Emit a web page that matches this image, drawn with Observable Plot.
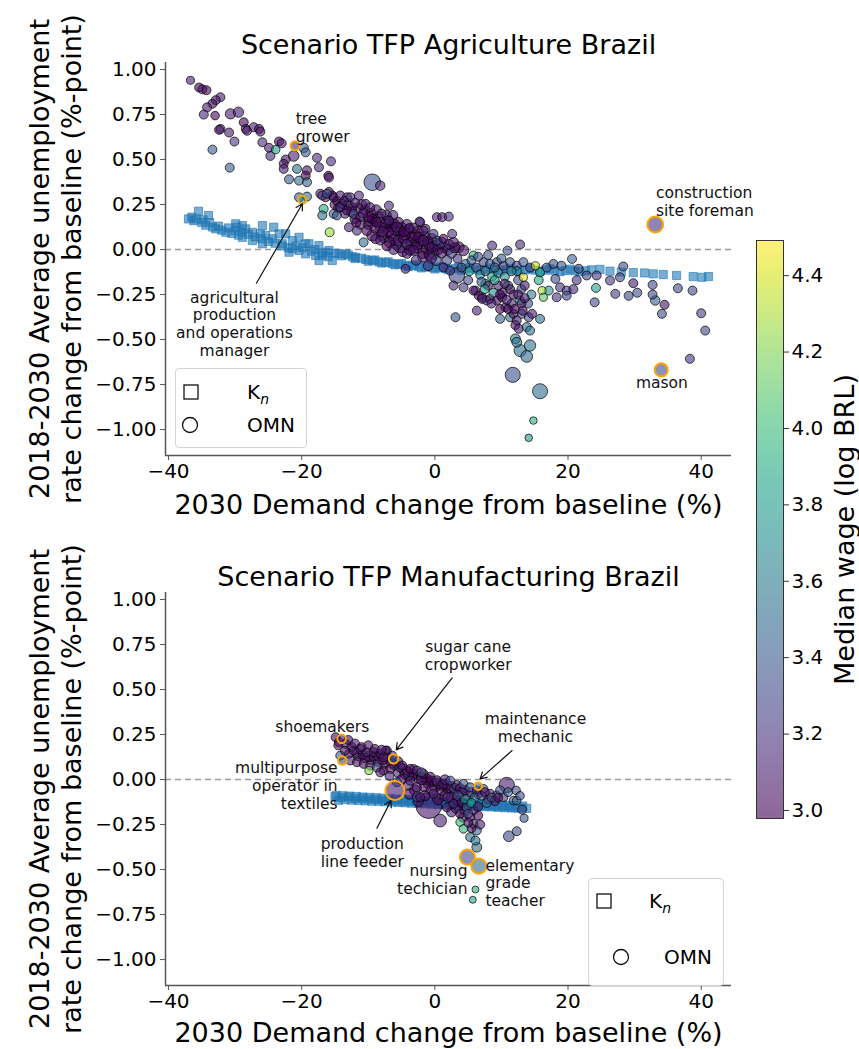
<!DOCTYPE html>
<html><head><meta charset="utf-8">
<script src="https://cdn.jsdelivr.net/npm/d3@7"></script>
<script src="https://cdn.jsdelivr.net/npm/@observablehq/plot@0.6"></script>
<style>
body{margin:0;background:#fff;font-family:"DejaVu Sans",sans-serif;}
#wrap{position:relative;width:859px;height:1049px;overflow:hidden;background:#fff;}
.legend{position:absolute;border:1px solid #d4d4d4;border-radius:4px;background:rgba(255,255,255,0.85);}
.legend svg{position:absolute;left:0;top:0;overflow:visible;}
</style></head><body><div id="wrap"></div>
<script>
// ---------- shared scale settings / tick labels ----------
const xTicks = [-40, -20, 0, 20, 40];
const yTicks = [-1, -0.75, -0.5, -0.25, 0, 0.25, 0.5, 0.75, 1];
const wageTicks = [3.0, 3.2, 3.4, 3.6, 3.8, 4.0, 4.2, 4.4];
const xDomain = [-40.45, 44.55];
const yDomain = [-1.144, 1.039];
const wageDomain = [2.979, 4.492];
const xLabel = "2030 Demand change from baseline (%)";
const yLabel = "2018-2030 Average unemployment\nrate change from baseline (%-point)";
const titles = ["Scenario TFP Agriculture Brazil", "Scenario TFP Manufacturing Brazil"];
const cbLabel = "Median wage (log BRL)";

// ---------- Panel 1: TFP Agriculture ----------
// OMN occupations: [demand change %, unemployment change pp, log median wage, relative employment]
const agriOMN = [
[-36.7,0.94,3.1,0.8],[-35.4,0.90,3.0,1],[-34.9,0.89,3.05,1],[-34.3,0.885,3.0,1],[-32.2,0.846,3.1,1],
[-32.9,0.83,3.05,1],[-33.4,0.81,3.0,1],[-34.2,0.79,3.1,1],[-34.7,0.75,3.15,1],[-33.0,0.744,3.0,0.9],
[-30.7,0.754,3.1,1.3],[-29.5,0.763,3.1,1.3],[-32.2,0.67,3.1,1],[-32.4,0.665,3.05,1],[-30.9,0.65,3.1,1],
[-28.7,0.707,3.0,1],[-28.4,0.67,3.0,1],[-28.2,0.66,3.1,1],[-27.2,0.68,3.1,1],[-26.4,0.67,3.0,1],
[-26.2,0.655,3.05,1],[-30.1,0.60,3.2,1],[-33.4,0.555,3.4,1],[-30.8,0.455,3.4,1],[-25.9,0.596,3.15,1],
[-24.9,0.565,3.1,1],[-24.7,0.52,3.15,1],[-23.9,0.555,3.85,0.9],[-23.4,0.60,3.0,1],[-23.0,0.59,3.1,1],
[-22.4,0.50,3.05,1],[-22.7,0.476,3.05,1],[-22.7,0.448,3.1,1],[-21.2,0.52,3.1,1.4],[-19.7,0.565,3.45,1.1],
[-19.4,0.54,3.4,1],[-20.7,0.448,3.55,1],[-19.2,0.44,3.05,1],[-19.4,0.41,3.0,1],[-21.9,0.39,3.4,1],
[-20.4,0.383,3.55,1],[-19.2,0.374,3.45,1],[-17.7,0.51,3.15,1],[-17.4,0.457,3.15,1],[-15.6,0.49,3.15,1],
[-16.0,0.41,3.0,1],[-15.9,0.40,3.05,1],[-20.4,0.29,3.45,1],[-19.2,0.294,3.5,1],
[-17.2,0.31,3.1,1],[-16.4,0.29,3.0,1],[-15.9,0.32,3.05,1],[-15.4,0.30,3.1,1],[-14.7,0.27,3.0,1],
[-16.9,0.30,3.2,1],[-16.2,0.31,3.35,1],[-15.2,0.29,3.0,1],[-14.2,0.30,3.1,1],[-16.7,0.226,3.9,1],
[-16.9,0.19,3.55,1],[-15.8,0.096,4.25,1],[-13.9,0.254,3.1,1],[-13.2,0.29,3.15,1],[-12.4,0.235,3.05,1],
[-12.7,0.29,3.15,1],[-11.4,0.30,3.15,1],[-10.4,0.254,3.1,1],[-9.7,0.235,3.1,1],[-6.9,0.244,3.15,1],
[-14.2,0.235,3.2,1],[-13.2,0.217,3.0,1],[-12.2,0.198,3.3,1],[-11.2,0.18,3.1,1],[-15.2,0.198,3.4,1],
[-14.7,0.19,3.35,1],[-12.9,0.124,3.1,1],[-11.7,0.105,3.15,1],[-10.7,0.04,3.5,1],[-9.4,0.374,3.35,3.4],
[-8.2,0.355,3.15,1.1],[-9.4,0.17,3.0,1.2],[-8.7,0.152,3.0,1.2],[-8.2,0.124,3.05,1.3],[-7.4,0.143,3.0,1.2],
[-6.9,0.161,3.1,1],[-10.2,0.105,3.0,1.2],[-9.4,0.078,3.05,1.5],[-8.9,0.06,3.0,1.2],[-8.2,0.05,3.1,1],
[-7.7,0.068,3.0,1.5],[-6.2,0.143,3.0,1.3],[-5.7,0.124,3.05,1.3],[-5.2,0.096,3.0,1.5],[-4.7,0.06,3.0,1.3],
[-4.2,0.03,3.1,1.2],[-3.7,-0.005,3.05,1.2],[-5.2,0.022,3.2,2.5],[-4.2,-0.024,3.1,1],[-3.2,-0.005,3.05,1.2],
[-2.2,0.152,3.15,1],[-1.4,0.115,3.05,1],[-2.4,0.068,3.0,1.3],[-1.7,0.05,3.05,1.3],[-0.9,0.03,3.0,1.4],
[-0.4,0.013,3.05,1.3],[0.3,0.18,3.1,1],[1.1,0.18,3.05,1],[2.1,0.183,3.15,1],[2.6,0.087,3.15,1],
[0.3,0.05,3.3,1],[1.3,0.06,3.0,1],[2.1,0.03,3.1,1.2],[2.8,0.04,3.05,1.2],[3.6,0.013,3.0,1.4],
[4.3,-0.005,3.05,1.4],[-4.4,-0.107,3.1,1],[-0.2,-0.024,3.3,1.5],[3.3,-0.144,3.3,3.0],[1.8,-0.06,3.3,1.2],
[1.3,-0.10,3.15,1],[2.3,-0.117,3.2,1],[4.3,-0.21,3.2,1],[2.8,-0.20,3.15,1],[5.8,-0.033,3.95,1],
[8.6,0.022,3.15,1],[7.6,-0.19,3.9,1],[6.1,-0.228,3.1,1],[7.1,-0.265,3.15,1],[7.8,-0.283,3.2,1],
[3.1,-0.376,3.4,1],[12.8,0.028,3.15,1],[10.9,-0.006,3.35,1],[20.6,-0.052,3.45,1],
[7.3,-0.07,3.3,1],[8.3,-0.08,3.4,1],[9.3,-0.07,3.3,1],[10.3,-0.09,3.25,1],[11.3,-0.07,3.35,1],
[12.3,-0.09,3.3,1],[13.3,-0.07,3.4,1],[14.3,-0.10,3.3,1],[15.1,-0.09,4.4,0.8],[13.3,-0.154,4.45,0.8],
[16.1,-0.228,4.3,0.8],[16.3,-0.265,4.1,0.8],[17.1,-0.228,3.75,1],[15.6,-0.17,3.9,1],[15.8,-0.126,3.85,1],
[18.1,-0.163,3.3,1],[18.8,-0.21,3.2,1],[19.8,-0.228,3.25,1],[20.8,-0.22,3.15,1],[18.3,-0.265,3.2,1],
[19.8,-0.256,3.3,1],[21.3,-0.17,3.2,1],[5.8,-0.228,3.05,1],[6.6,-0.256,3.0,1],[7.1,-0.274,3.1,1],
[6.3,-0.339,3.1,1],[8.3,-0.274,3.05,1],[9.3,-0.283,3.0,1],[10.1,-0.265,3.1,1],[10.6,-0.32,3.1,1],
[9.8,-0.33,3.0,1],[9.8,-0.385,3.4,1],[11.3,-0.376,3.5,1],[11.8,-0.357,3.05,1],[12.3,-0.394,3.1,1],
[12.8,-0.283,3.8,1],[12.1,-0.42,3.1,1],[12.6,-0.44,3.1,1],[13.1,-0.357,3.35,1],[14.1,-0.376,3.3,1],
[14.6,-0.357,3.1,1],[15.8,-0.385,3.5,1],[13.8,-0.43,3.5,1],[14.3,-0.45,3.55,1],[12.1,-0.496,3.6,1.2],
[12.3,-0.515,3.55,1.2],[12.8,-0.561,3.55,1.8],[14.3,-0.533,3.55,1.6],[13.8,-0.594,3.5,1.7],
[11.7,-0.696,3.35,2.8],[15.8,-0.787,3.5,2.8],[14.8,-0.95,3.95,0.7],[14.1,-1.046,3.8,0.7],
[22.8,-0.144,3.3,1],[24.3,-0.144,3.2,1],[24.2,-0.213,3.8,1],[24.0,-0.293,3.3,1],[26.3,-0.172,3.25,1],
[27.8,-0.154,3.3,1],[27.1,-0.246,3.25,1],[29.1,-0.257,3.3,1],[30.4,-0.24,3.35,1],[29.8,-0.187,3.1,1],
[32.7,-0.196,3.3,1],[32.7,-0.25,3.3,1],[33.1,-0.283,3.45,1.1],[34.5,-0.307,3.05,1],[34.1,-0.357,3.3,1],
[36.5,-0.215,3.3,1],[38.7,-0.228,3.3,1],[40.0,-0.354,3.25,1],[40.6,-0.45,3.3,1],[38.3,-0.607,3.2,1],
[28.3,-0.094,3.35,1],[21.6,-0.107,3.3,1],[-2.3,0.156,3.15,1],[-1.7,0.105,3.1,1],[-0.2,0.087,3.2,1],
[-7.0,0.10,3.0,1.4],[-6.5,0.08,3.05,1.5],[-6.0,0.06,3.0,1.6],[-5.5,0.05,3.1,1.4],[-7.2,0.02,3.0,1.2],
[-6.2,0.0,3.05,1.2],[-3.0,0.08,3.0,1.4],[-2.6,0.03,3.1,1.5],[-3.5,0.04,3.0,1.6],[-1.2,0.0,3.05,1.5],
[-1.8,-0.02,3.0,1.4],[-0.5,-0.05,3.1,1.2],[0.5,0.0,3.0,1.3],[1.0,-0.02,3.05,1.2],[-2.8,-0.06,3.15,1.2],
[-1.0,-0.09,3.2,1.2],[-4.6,0.10,3.0,1.3],[-8.0,0.20,3.1,1],[-10.8,0.20,3.05,1],[-11.8,0.15,3.0,1],
[-13.6,0.27,3.05,1],[-12.0,0.26,3.1,1],[-10.0,0.18,3.0,1.2],[-9.0,0.12,3.0,1.3],[-7.8,0.10,3.05,1.2],
[-3.8,0.12,3.05,1],[3.4,-0.05,3.2,1],[4.6,-0.08,3.5,1],[5.2,-0.12,3.85,1],[6.2,-0.10,3.3,1],
[6.8,-0.14,3.7,1],[7.6,-0.12,3.5,1],[8.6,-0.15,3.85,1],[9.5,-0.13,3.6,1],[10.5,-0.15,3.7,1],
[11.0,-0.20,3.5,1],[9.5,-0.20,3.1,1],[10.2,-0.24,3.05,1],[11.8,-0.25,3.1,1],[13.0,-0.22,3.3,1],
[14.5,-0.25,3.6,1],[14.0,-0.30,3.3,1],[8.8,-0.24,3.7,1],[7.0,-0.18,3.4,1],[5.0,-0.17,3.3,1],
[12.3,-0.12,3.7,1],[16.8,-0.10,3.4,1],[17.8,-0.08,3.35,1],[19.0,-0.09,3.4,1],[11.5,-0.30,3.15,1],
[13.0,-0.30,3.05,1],[11.0,-0.33,3.0,1],
[-15.0,0.25,3.05,1.2],[-14.0,0.24,3.0,1.2],[-13.0,0.25,3.1,1.2],[-12.5,0.21,3.0,1.3],[-11.5,0.23,3.05,1.3],
[-10.5,0.22,3.0,1.3],[-10.0,0.14,3.1,1.3],[-9.6,0.20,3.0,1.4],[-9.0,0.16,3.05,1.4],[-8.5,0.18,3.0,1.4],
[-8.0,0.08,3.1,1.4],[-7.5,0.12,3.0,1.5],[-7.0,0.16,3.05,1.4],[-6.5,0.13,3.0,1.5],[-6.0,0.11,3.1,1.5],
[-5.5,0.15,3.0,1.4],[-5.0,0.12,3.05,1.5],[-4.5,0.08,3.0,1.5],[-4.0,0.11,3.1,1.4],[-3.5,0.07,3.0,1.5],
[-3.0,0.03,3.05,1.5],[-2.5,0.10,3.0,1.4],[-2.0,0.05,3.1,1.5],[-1.5,0.07,3.0,1.5],[-1.0,0.04,3.05,1.5],
[-0.5,0.06,3.0,1.4],[0.0,0.02,3.1,1.5],[0.5,0.03,3.0,1.4],[1.0,0.04,3.3,1.3],[1.5,0.01,3.0,1.4],
[2.0,0.0,3.05,1.4],[2.5,-0.02,3.3,1.3],[3.0,0.01,3.0,1.3],[-6.8,0.04,3.0,1.4],[-5.8,0.03,3.05,1.5],
[-4.8,-0.01,3.0,1.4],[-3.8,0.0,3.1,1.4],[-2.8,0.01,3.0,1.5],[-1.8,-0.04,3.05,1.4],[-0.8,-0.03,3.0,1.4],
[0.2,-0.06,3.3,1.3],[-11.0,0.25,3.05,1.2],[-12.0,0.17,3.0,1.2],[-13.5,0.20,3.1,1.1],[-14.5,0.23,3.0,1.1],
[-8.8,0.22,3.05,1.3],[-7.3,0.19,3.0,1.3],[-6.3,0.19,3.1,1.2],[-9.8,0.16,3.0,1.3],[-11.2,0.14,3.05,1.2],
[-4.2,0.14,3.1,1.2],[-3.2,0.12,3.0,1.2],
[4.0,-0.10,3.3,1],[5.5,-0.06,3.4,1],[6.5,-0.04,3.35,1],[8.0,-0.03,3.3,1],[9.0,-0.10,3.45,1],
[10.0,-0.05,3.4,1],[11.5,-0.12,3.6,1],[12.5,-0.17,3.3,1],[13.5,-0.20,3.1,1],[8.0,-0.20,3.05,1],
[9.0,-0.17,3.85,1],[10.5,-0.19,3.1,1],[11.3,-0.22,3.0,1],[12.5,-0.25,3.05,1],[13.5,-0.27,3.1,1],
[12.0,-0.33,3.0,1],[13.2,-0.34,3.05,1],[10.8,-0.28,3.1,1],[9.8,-0.25,3.0,1],[8.5,-0.30,3.15,1],[7.5,-0.22,3.8,1]
];
// annotated occupations (orange edge)
const agriHighlight = [
[-21.0,0.576,3.15,1.0],[-19.9,0.276,3.75,0.8],[33.1,0.139,3.2,3.1],[34.0,-0.668,3.3,2.1]
];
// K_n (squares): [demand change %, unemployment change pp]
const agriKn = [
[-37.0,0.170],[-36.2,0.160],[-35.5,0.213],[-35.0,0.150],[-34.0,0.189],[-34.4,0.135],[-33.4,0.125],
[-32.9,0.115],[-32.0,0.108],[-31.4,0.096],[-30.5,0.090],[-29.9,0.143],[-29.7,0.124],[-28.9,0.133],
[-28.4,0.115],[-29.5,0.080],[-28.9,0.068],[-27.4,0.096],[-27.4,0.050],[-26.2,0.087],[-25.9,0.133],
[-25.4,0.078],[-25.9,0.032],[-24.4,0.060],[-24.2,0.124],[-23.4,0.087],[-22.9,0.032],[-22.4,0.087],
[-21.4,0.050],[-21.4,0.004],[-21.9,-0.015],[-20.4,0.068],[-20.4,-0.005],[-19.4,0.032],[-19.4,-0.024],
[-18.9,0.032],[-17.9,-0.033],[-17.4,0.022],[-17.4,-0.061],[-16.9,-0.033],[-15.9,-0.005],[-15.4,-0.061],
[-16.4,-0.015],[-14.4,-0.024],[-13.4,-0.024],[-12.4,-0.040],[-11.9,-0.043],[-10.4,-0.055],[-9.4,-0.060],
[-8.4,-0.068],[-7.4,-0.072],[-6.4,-0.078],[-5.4,-0.082],[-4.4,-0.087],[-3.4,-0.090],[-2.4,-0.094],
[-1.4,-0.097],[-0.4,-0.100],[0.6,-0.102],[1.6,-0.104],[3.0,-0.106],[4.6,-0.108],[6.0,-0.109],
[7.6,-0.110],[9.0,-0.111],[10.6,-0.112],[12.0,-0.113],[13.6,-0.113],[15.0,-0.114],[16.6,-0.115],
[18.0,-0.116],[19.6,-0.117],[21.0,-0.118],[22.6,-0.118],[24.8,-0.110],[26.3,-0.120],[28.0,-0.125],
[29.8,-0.128],[31.5,-0.130],[32.8,-0.135],[34.3,-0.139],[36.3,-0.144],[38.8,-0.150],[40.1,-0.154],[41.1,-0.150],
[-15.0,-0.020],[-14.0,-0.035],[-13.0,-0.030],[-12.0,-0.050],[-11.0,-0.048],[-10.0,-0.065],[-9.0,-0.058],
[-8.0,-0.075],[-7.0,-0.068],[-6.0,-0.085],[-5.0,-0.078],[-4.0,-0.095],[-3.0,-0.085],[-2.0,-0.102],
[-1.0,-0.092],[0.0,-0.108],[1.0,-0.095],[2.0,-0.112],[3.5,-0.098],[4.0,-0.115],[5.3,-0.100],
[6.8,-0.116],[8.3,-0.102],[9.8,-0.118],[11.3,-0.104],[12.8,-0.120],[14.3,-0.105],[15.8,-0.121],
[17.3,-0.107],[18.8,-0.123],[20.3,-0.109],[21.8,-0.124],[23.5,-0.113],
[-36.5,0.180],[-35.8,0.170],[-34.8,0.165],[-33.8,0.150],[-32.5,0.130],[-31.0,0.120],[-30.0,0.105],
[-29.0,0.095],[-28.0,0.085],[-27.0,0.070],[-26.0,0.060],[-25.0,0.045],[-24.0,0.035],[-23.0,0.020],
[-22.0,0.010],[-20.8,0.020],[-19.9,0.010],[-18.5,-0.010],[-18.0,0.000],[-17.0,-0.020],[-16.0,-0.040]
];
const agriNotes = [
{label:"tree\ngrower", x:-20.9, y:0.678, anchor:"start"},
{label:"construction\nsite foreman", x:33.2, y:0.269, anchor:"start"},
{label:"mason", x:34.1, y:-0.737, anchor:"middle"},
{label:"agricultural\nproduction\nand operations\nmanager", x:-30.1, y:-0.411, anchor:"middle"}
];
const agriArrows = [{x1:-26.8, y1:-0.187, x2:-19.9, y2:0.254}];

// ---------- Panel 2: TFP Manufacturing ----------
const manuOMN = [
[-14.9,0.235,3.0,1],[-14.4,0.207,3.05,1],[-13.4,0.198,3.1,1],[-14.2,0.133,3.4,1],[-12.9,0.143,3.1,1],
[-12.2,0.161,3.05,1],[-11.2,0.17,3.2,1],[-10.2,0.152,3.15,1],[-9.2,0.152,3.1,1],[-8.2,0.143,3.0,1],
[-7.2,0.161,3.05,1],[-6.4,0.133,3.1,1],[-12.7,0.106,3.1,1],[-11.7,0.096,3.05,1],[-10.7,0.087,3.0,1],
[-9.7,0.078,3.1,1],[-9.9,0.05,4.2,0.8],[-8.7,0.068,3.3,1],[-7.7,0.05,3.0,1],[-6.7,0.059,3.05,1],
[-5.2,0.068,3.2,1],[-4.2,0.05,3.05,1],[-3.2,0.059,3.1,1],[-5.7,-0.015,3.4,1],[-3.7,-0.006,3.1,1],
[-2.7,-0.043,3.05,1],[-2.7,-0.098,3.3,1],[-7.4,0.161,3.0,1],[-7.7,0.124,3.1,1],[-4.9,0.078,3.05,1],
[-3.7,0.059,3.0,1],[-2.7,0.05,3.1,1],[-1.7,0.032,3.05,1],[-0.7,0.013,3.0,1.2],[0.3,-0.006,3.1,1.2],
[1.3,-0.024,3.05,1.2],[2.3,-0.006,3.3,1],[3.3,-0.033,3.1,1.2],[4.3,-0.024,3.4,1],[5.3,-0.043,3.3,1],
[6.3,-0.061,3.1,1],[7.3,-0.052,3.4,1],[8.3,-0.079,3.1,1],[9.3,-0.089,3.3,1],[10.3,-0.098,3.2,1],
[10.8,-0.03,3.1,2.9],[11.8,-0.117,3.4,0.9],[12.3,-0.117,3.45,0.9],[13.1,-0.167,3.35,1],[13.4,-0.215,3.4,0.8],
[11.1,-0.315,3.3,1.4],[12.3,-0.287,3.35,1],[-0.9,-0.144,3.05,8.3],[0.8,-0.228,3.1,2.0],[-2.2,-0.098,3.05,1],
[-0.2,-0.079,3.1,1],[1.8,-0.154,3.0,1],[2.8,-0.135,3.1,1],[3.8,-0.19,3.0,1],[4.8,-0.154,3.35,1],
[5.3,-0.209,3.05,1],[5.8,-0.246,3.1,1],[6.3,-0.283,3.45,1],[5.3,-0.32,3.5,1],[6.1,-0.339,3.55,1],
[6.3,-0.376,3.5,1.2],[3.8,-0.237,4.0,0.9],[4.3,-0.274,3.95,0.9],[6.1,-0.611,3.95,0.6],[5.7,-0.668,3.85,0.6],
[-13.0,0.22,3.0,1],[-12.0,0.20,3.1,1],[-11.0,0.18,3.0,1],[-10.0,0.19,3.05,1],[-9.0,0.17,3.0,1],
[-8.0,0.165,3.1,1],[-11.5,0.13,3.0,1.1],[-10.5,0.12,3.05,1.1],[-9.5,0.11,3.0,1.2],[-8.5,0.10,3.1,1.2],
[-7.5,0.09,3.0,1.2],[-6.5,0.09,3.05,1.2],[-5.5,0.10,3.0,1.1],[-4.5,0.03,3.1,1.2],[-3.5,0.02,3.0,1.3],
[-2.0,0.0,3.05,1.3],[-1.0,-0.02,3.0,1.4],[0.0,-0.04,3.05,1.4],[1.0,-0.06,3.0,1.4],[2.0,-0.05,3.1,1.3],
[3.0,-0.08,3.0,1.4],[4.0,-0.07,3.3,1.2],[5.0,-0.09,3.1,1.2],[6.0,-0.10,3.5,1],[7.0,-0.09,3.3,1],
[8.0,-0.11,3.05,1],[9.0,-0.12,3.1,1],[4.5,-0.11,3.7,1],[5.5,-0.13,3.85,1],[6.5,-0.15,3.1,1],
[5.0,-0.19,3.3,1],[6.5,-0.20,3.0,1],[-4.0,-0.03,3.1,1.3],[-3.0,-0.06,3.0,1.5],[-1.5,-0.09,3.05,1.3],
[0.5,-0.11,3.0,1.5],[2.0,-0.10,3.1,1.2],[-5.0,0.0,3.0,1.2],[-6.8,0.02,3.1,1],[-8.2,0.04,3.05,1],
[3.5,-0.12,3.05,1.3],[2.5,-0.18,3.1,1.2],[-2.0,0.04,3.3,1],[1.5,0.0,3.1,1.1],[7.8,-0.13,3.45,1],
[9.8,-0.06,3.35,1],[11.0,-0.07,3.4,1],[12.2,-0.06,3.35,0.9],[12.8,-0.09,3.3,0.9],
[-14.5,0.19,3.0,1],[-13.5,0.16,3.05,1],[-12.5,0.18,3.0,1.1],[-11.8,0.15,3.1,1.1],[-10.8,0.14,3.0,1.1],
[-10.0,0.13,3.05,1.2],[-9.2,0.13,3.0,1.2],[-8.5,0.13,3.1,1.2],[-7.8,0.11,3.0,1.2],[-7.0,0.12,3.05,1.3],
[-6.0,0.08,3.0,1.3],[-5.5,0.04,3.1,1.3],[-4.8,0.06,3.0,1.3],[-4.0,0.02,3.05,1.3],[-3.3,0.03,3.0,1.4],
[-2.5,0.01,3.1,1.4],[-1.8,0.01,3.0,1.4],[-1.2,0.0,3.05,1.4],[-0.5,-0.01,3.0,1.4],[0.5,-0.02,3.1,1.4],
[1.0,-0.03,3.0,1.4],[1.8,-0.03,3.05,1.3],[2.5,-0.04,3.0,1.3],[3.0,-0.05,3.3,1.3],[3.8,-0.05,3.0,1.2],
[4.5,-0.06,3.05,1.2],[5.5,-0.07,3.3,1.1],[6.5,-0.08,3.0,1.1],[7.5,-0.07,3.05,1],[8.5,-0.10,3.3,1],
[9.5,-0.10,3.05,1],[-3.8,-0.08,3.0,1.4],[-2.5,-0.12,3.05,1.4],[-1.5,-0.04,3.0,1.4],[-0.5,-0.06,3.1,1.4],
[1.5,-0.09,3.0,1.3],[2.5,-0.10,3.05,1.3],[3.5,-0.09,3.3,1.2],[4.0,-0.13,3.0,1.2],[4.5,-0.17,3.05,1.2],
[5.8,-0.17,3.1,1.1],[3.2,-0.16,3.0,1.2],[4.2,-0.21,3.05,1.1],[5.5,-0.27,3.0,1],[6.8,-0.25,3.1,1],[5.0,-0.24,3.05,1]
];
const manuHighlight = [
[-14.0,0.226,3.1,0.9],[-13.9,0.106,3.35,0.9],[-6.2,0.115,3.4,1.1],[6.5,-0.037,3.5,0.7],
[-6.0,-0.061,3.1,4.4],[4.9,-0.431,3.3,2.8],[6.6,-0.481,3.5,2.8]
];
const manuKn = [
[-15.0,-0.095],[-14.5,-0.115],[-14.0,-0.100],[-13.5,-0.112],[-13.0,-0.098],[-12.5,-0.114],[-12.0,-0.105],
[-11.5,-0.116],[-11.0,-0.104],[-10.5,-0.118],[-10.0,-0.108],[-9.5,-0.120],[-9.0,-0.110],[-8.5,-0.121],
[-8.0,-0.112],[-7.5,-0.123],[-7.0,-0.115],[-6.5,-0.125],[-6.0,-0.117],[-5.5,-0.127],[-5.0,-0.120],
[-4.5,-0.129],[-4.0,-0.121],[-3.5,-0.131],[-3.0,-0.124],[-2.5,-0.133],[-2.0,-0.126],[-1.5,-0.135],
[-1.0,-0.128],[-0.5,-0.137],[0.0,-0.130],[0.5,-0.139],[1.0,-0.132],[1.5,-0.141],[2.0,-0.134],
[2.5,-0.143],[3.0,-0.136],[3.5,-0.145],[4.0,-0.138],[4.5,-0.147],[5.0,-0.140],[5.5,-0.149],
[6.0,-0.142],[6.5,-0.150],[7.0,-0.144],[7.5,-0.151],[8.0,-0.146],[8.5,-0.152],[9.0,-0.148],
[9.5,-0.154],[10.0,-0.150],[10.5,-0.156],[11.0,-0.152],[11.5,-0.158],[12.0,-0.155],[12.5,-0.159],
[13.0,-0.157],[13.8,-0.160],
[-14.8,-0.088],[-13.8,-0.090],[-12.8,-0.092],[-11.8,-0.094],[-10.8,-0.097],[-9.8,-0.099],[-8.8,-0.101],
[-7.8,-0.103],[-6.8,-0.106],[-5.8,-0.108],[-4.8,-0.110],[-3.8,-0.112],[-2.8,-0.115],[-1.8,-0.117],
[-0.8,-0.119],[0.2,-0.121],[1.2,-0.123],[2.2,-0.125],[3.2,-0.127],[4.2,-0.129],[5.2,-0.131],
[6.2,-0.133],[7.2,-0.135],[8.2,-0.137],[9.2,-0.139],[10.2,-0.141],[11.2,-0.143],[12.2,-0.145],[13.2,-0.147]
];
const manuNotes = [
{label:"shoemakers", x:-16.9, y:0.294, anchor:"middle"},
{label:"multipurpose\noperator in\ntextiles", x:-14.6, y:-0.033, anchor:"end"},
{label:"sugar cane\ncropworker", x:5.0, y:0.69, anchor:"middle"},
{label:"maintenance\nmechanic", x:15.1, y:0.29, anchor:"middle"},
{label:"production\nline feeder", x:-10.9, y:-0.405, anchor:"middle"},
{label:"nursing\ntechician", x:4.9, y:-0.555, anchor:"end"},
{label:"elementary\ngrade\nteacher", x:7.6, y:-0.572, anchor:"start"}
];
const manuArrows = [
{x1:2.6, y1:0.565, x2:-5.8, y2:0.165},
{x1:11.6, y1:0.161, x2:6.8, y2:0.004},
{x1:-8.7, y1:-0.27, x2:-6.6, y2:-0.117}
];

// ---------- drawing ----------
const FONT = '"DejaVu Sans", sans-serif';
const minus = (s) => s.replace("-", "\u2212");
const fmtY = d => minus(d.toFixed(2));
const fmtX = d => minus(String(d));

function panel(cfg) {
  const noteMarks = ["start","middle","end"].map(a =>
    Plot.text(cfg.notes, {filter: d => d.anchor === a, x: "x", y: "y", text: "label",
      textAnchor: a, lineAnchor: "middle", fontSize: 15.5, lineHeight: 1.14, fill: "#111"}));
  return Plot.plot({
    width: 740, height: cfg.height,
    marginLeft: 165, marginRight: 9, marginTop: 62, marginBottom: cfg.marginBottom,
    style: {fontFamily: FONT, fontSize: "20px", color: "black", background: "transparent", overflow: "visible"},
    x: {domain: xDomain},
    y: {domain: yDomain},
    color: {type: "linear", scheme: "viridis", domain: wageDomain},
    r: {type: "sqrt", domain: [0, 1], range: [0, 4.5]},
    marks: [
      Plot.ruleY([0], {stroke: "#9a9a9a", strokeWidth: 1.5, strokeDasharray: "6,4"}),
      Plot.dot(cfg.kn, {x: d => d[0], y: d => d[1], symbol: "square", r: 4.6,
        fill: "#1f77b4", fillOpacity: 0.6, stroke: "#1f77b4", strokeOpacity: 0.6, strokeWidth: 1}),
      Plot.dot(cfg.omn, {x: d => d[0], y: d => d[1], fill: d => d[2], r: d => d[3],
        fillOpacity: 0.6, stroke: "black", strokeOpacity: 0.7, strokeWidth: 1}),
      Plot.dot(cfg.highlight, {x: d => d[0], y: d => d[1], fill: d => d[2], r: d => d[3],
        fillOpacity: 0.6, stroke: "orange", strokeWidth: 2}),
      ...noteMarks,
      Plot.arrow(cfg.arrows, {x1: "x1", y1: "y1", x2: "x2", y2: "y2", stroke: "#111",
        strokeWidth: 1.2, headLength: 9}),
      Plot.ruleX([xDomain[0]], {stroke: "#555", strokeWidth: 1.5}),
      Plot.ruleY([yDomain[0]], {stroke: "#555", strokeWidth: 1.5}),
      Plot.axisY({ticks: yTicks, tickFormat: fmtY, tickSize: 5, tickPadding: 4, stroke: "#555",
        fontSize: 20, label: null}),
      Plot.axisX({ticks: xTicks, tickFormat: fmtX, tickSize: 5, tickPadding: 3, stroke: "#555",
        fontSize: 20, label: null}),
      Plot.text([cfg.title], {frameAnchor: "top", dy: cfg.titleDy, fontSize: 27,
        textAnchor: "middle", lineAnchor: "middle"}),
      Plot.text([xLabel], {frameAnchor: "bottom", dy: cfg.xLabelDy, fontSize: 27,
        textAnchor: "middle", lineAnchor: "middle"}),
      Plot.text([yLabel], {frameAnchor: "left", dx: -111, rotate: -90, fontSize: 27,
        textAnchor: "middle", lineAnchor: "middle", lineHeight: 1.19})
    ]
  });
}

const wrap = document.getElementById("wrap");
function place(el, left, top) {
  el.style.position = "absolute"; el.style.left = left + "px"; el.style.top = top + "px";
  wrap.appendChild(el);
}

place(panel({omn: agriOMN, kn: agriKn, highlight: agriHighlight, notes: agriNotes, arrows: agriArrows,
  title: titles[0], height: 530, marginBottom: 75, titleDy: -17, xLabelDy: 50}), 0, 0);
place(panel({omn: manuOMN, kn: manuKn, highlight: manuHighlight, notes: manuNotes, arrows: manuArrows,
  title: titles[1], height: 519, marginBottom: 64, titleDy: -15, xLabelDy: 48}), 0, 530);

// colorbar
const cbSteps = d3.range(wageDomain[0], wageDomain[1], 0.004);
const cb = Plot.plot({
  width: 113, height: 600, marginLeft: 10, marginRight: 76, marginTop: 10, marginBottom: 12,
  style: {fontFamily: FONT, fontSize: "20px", color: "black", background: "transparent", overflow: "visible"},
  x: {domain: [0, 1], axis: null},
  y: {domain: wageDomain},
  color: {type: "linear", domain: wageDomain,
    interpolate: t => d3.interpolateRgb("white", d3.interpolateViridis(t))(0.6)},
  marks: [
    Plot.rect(cbSteps, {x1: () => 0, x2: () => 1, y1: d => d,
      y2: d => Math.min(d + 0.009, wageDomain[1]), fill: d => d}),
    Plot.frame({stroke: "#333", strokeWidth: 1}),
    Plot.axisY({anchor: "right", ticks: wageTicks, tickFormat: d => d.toFixed(1), tickSize: 5,
      tickPadding: 3, stroke: "#333", fontSize: 20, label: null}),
    Plot.text([cbLabel], {frameAnchor: "right", dx: 62, rotate: -90, fontSize: 27,
      textAnchor: "middle", lineAnchor: "middle"})
  ]
});
place(cb, 746, 230);

// legends (K_n squares, OMN circles)
function legend(left, top, w, h, sq, circ, knX, knY, omnX, omnY) {
  const div = document.createElement("div");
  div.className = "legend";
  div.style.left = left + "px"; div.style.top = top + "px";
  div.style.width = w + "px"; div.style.height = h + "px";
  div.innerHTML = `<svg width="${w}" height="${h}" font-family='"DejaVu Sans", sans-serif' font-size="20">
    <rect x="${sq[0]-7}" y="${sq[1]-7}" width="14" height="14" fill="none" stroke="#111" stroke-width="1.3"/>
    <text x="${knX}" y="${knY}">K<tspan font-size="14" font-style="italic" dy="5">n</tspan></text>
    <circle cx="${circ[0]}" cy="${circ[1]}" r="7.5" fill="none" stroke="#111" stroke-width="1.3"/>
    <text x="${omnX}" y="${omnY}">OMN</text></svg>`;
  wrap.appendChild(div);
}
legend(175, 368, 130, 78, [15, 23], [14, 56], 71, 30, 71, 63);
legend(588, 878, 134, 106, [15, 22], [32, 78], 60, 29, 75, 85);
</script></body></html>
